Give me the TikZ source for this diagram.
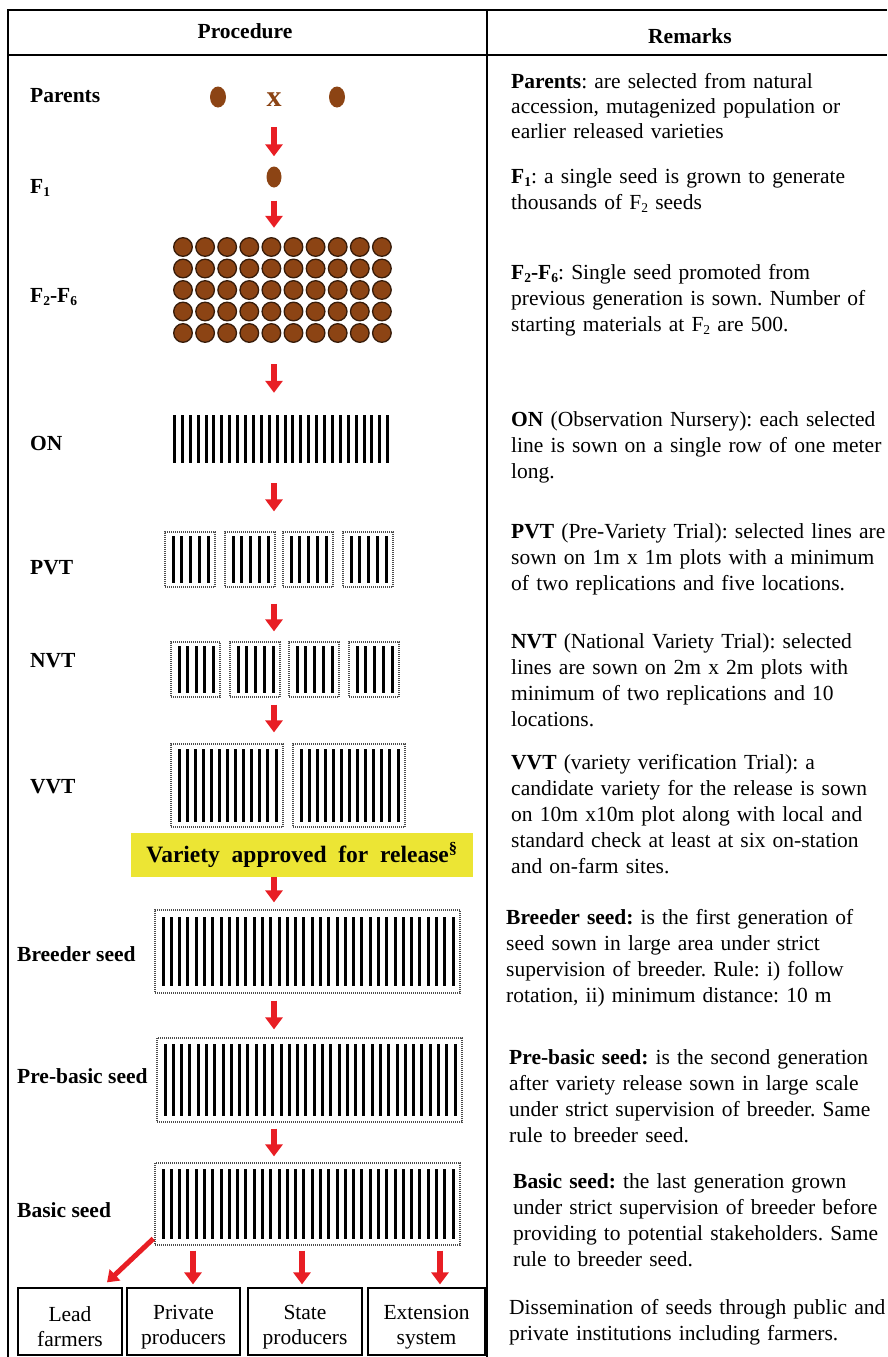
\documentclass[tikz,border=0pt]{standalone}
\usepackage{fontspec}
\setmainfont{Liberation Serif}
\usetikzlibrary{arrows.meta,calc,shapes.geometric}
\definecolor{seedbrown}{RGB}{140,68,20}
\definecolor{seededge}{RGB}{55,28,10}
\definecolor{arrowred}{RGB}{232,30,36}
\definecolor{banneryellow}{RGB}{236,229,52}
\newcommand{\lowsub}[1]{\raisebox{-0.32ex}{\fontsize{13.5}{13.5}\selectfont #1}}
\newcommand{\plotbox}[7]{%
  \node[dotbox, minimum width={#4-#2}, minimum height={#5-#3}] (#1) at ({(#2+#4)/2},{(#3+#5)/2}) {};
  \foreach \k in {1,...,#6}{
    \pgfmathsetmacro{\xx}{round(#2+7.5+(#4-#2-15)*(\k-1)/(#6-1))+0.5}
    \draw[bar] (\xx,#3+#7) -- (\xx,#5-#7);
  }%
}
\begin{document}
\frenchspacing
\begin{tikzpicture}[x=1pt,y=-1pt,
  frame/.style={line width=1.8pt,draw=black},
  hdr/.style={anchor=base,inner sep=0pt,font=\fontsize{21.5}{26}\selectfont\bfseries},
  lab/.style={anchor=base west,inner sep=0pt,font=\fontsize{21.5}{26}\selectfont\bfseries},
  remark/.style={anchor=base west,inner sep=0pt,align=left,text width=400pt,font=\fontsize{21.5}{26}\selectfont},
  seed/.style={ellipse,fill=seedbrown,inner sep=0pt,draw=none},
  gseed/.style={fill=seedbrown,draw=seededge,line width=1.3pt},
  bar/.style={line width=3pt,draw=black},
  dotbox/.style={draw=black!70,line width=1.3pt,dash pattern=on 1pt off 1pt,inner sep=0pt},
  redarrow/.style={draw=arrowred,line width=6.5pt,-{Triangle[length=12pt,width=17pt]}},
  obox/.style={draw=black,line width=1.3pt,inner sep=0pt,align=center,font=\fontsize{21.5}{25}\selectfont},
  helper/.style={inner sep=0pt,minimum size=0pt}]
\useasboundingbox (0,0) rectangle (887,1357);
% table frame
\draw[frame] (8,1357) -- (8,10) -- (887,10);
\draw[frame] (487,10) -- (487,1357);
\draw[frame] (8,55) -- (887,55);
\node[hdr] (hproc) at (245,38) {Procedure};
\node[hdr] (hrem) at (690,43) {Remarks};
% x coordinates for arrows
\coordinate (ax) at (274,0);
\coordinate (bx2) at (193,0);
\coordinate (bx3) at (302,0);
\coordinate (bx4) at (440,0);
% left labels
\node[lab] (lpar) at (30,102) {Parents};
\node[lab] (lf1) at (30,193) {F\lowsub{1}};
\node[lab] (lf2) at (30,302) {F\lowsub{2}-F\lowsub{6}};
\node[lab] (lon) at (30,450) {ON};
\node[lab] (lpvt) at (30,574) {PVT};
\node[lab] (lnvt) at (30,667) {NVT};
\node[lab] (lvvt) at (30,793) {VVT};
\node[lab] (lbr) at (17,961) {Breeder seed};
\node[lab] (lpb) at (17,1083) {Pre-basic seed};
\node[lab] (lbs) at (17,1217) {Basic seed};
% parents and F1
\node[seed,minimum width=16pt,minimum height=21pt] (p1) at (218,97) {};
\node[seed,minimum width=16pt,minimum height=21pt] (p2) at (337,97) {};
\node[anchor=base,inner sep=0pt,text=seedbrown,font=\fontsize{30}{30}\selectfont\bfseries] (cross) at (274,106) {x};
\node[seed,minimum width=15pt,minimum height=21pt] (f1) at (274,177) {};
% F2-F6 grid
\node[helper,minimum width=221pt,minimum height=106pt] (grid) at (282.5,290) {};
\foreach \r in {0,...,4}{
  \foreach \c in {0,...,9}{
    \draw[gseed] ({183+22.1*\c},{247+21.5*\r}) circle (9.3pt);
  }
}
% ON
\node[helper,minimum width=215pt,minimum height=48pt] (on) at (280.5,439) {};
\foreach \k in {0,...,27}{
  \pgfmathsetmacro{\xx}{round(174+7.9*\k)+0.5}
  \draw[bar] (\xx,415) -- (\xx,463);
}
% PVT
\plotbox{pvt1}{165}{532}{215}{587}{5}{4}
\plotbox{pvt2}{225}{532}{275}{587}{5}{4}
\plotbox{pvt3}{283}{532}{333}{587}{5}{4}
\plotbox{pvt4}{343}{532}{393}{587}{5}{4}
% NVT
\plotbox{nvt1}{171}{642}{220}{697}{5}{4}
\plotbox{nvt2}{230}{642}{280}{697}{5}{4}
\plotbox{nvt3}{289}{642}{339}{697}{5}{4}
\plotbox{nvt4}{349}{642}{399}{697}{5}{4}
% VVT
\plotbox{vvt1}{171}{744}{283}{827}{13}{5}
\plotbox{vvt2}{293}{744}{405}{827}{13}{5}
% banner
\node[fill=banneryellow,inner sep=0pt,minimum width=342pt,minimum height=44pt,
  font=\fontsize{23.5}{26}\selectfont\bfseries] (banner) at (302,855)
  {Variety\ \ approved\ \ for\ \ release\textsuperscript{\S}};
% seed multiplication
\plotbox{breeder}{155}{910}{460}{993}{36}{7}
\plotbox{prebasic}{157}{1038}{462}{1122}{36}{6}
\plotbox{basic}{155}{1163}{460}{1245}{36}{6}
% bottom boxes
\node[obox,minimum width=104pt,minimum height=67pt] (b1) at (70,1321.5) {\rule{0pt}{25pt}Lead\\farmers};
\node[obox,minimum width=113pt,minimum height=67pt] (b2) at (183.5,1321.5) {\rule{0pt}{25pt}Private\\producers};
\node[obox,minimum width=114pt,minimum height=67pt] (b3) at (305,1321.5) {\rule{0pt}{25pt}State\\producers};
\node[obox,minimum width=117pt,minimum height=67pt] (b4) at (426.5,1321.5) {\rule{0pt}{25pt}Extension\\system};
% arrows
\draw[redarrow,shorten <=21pt,shorten >=10pt] (cross.south) -- (f1.north);
\draw[redarrow,shorten <=13pt,shorten >=9pt] (f1.south) -- (grid.north -| ax);
\draw[redarrow,shorten <=21pt,shorten >=22pt] (grid.south -| ax) -- (on.north -| ax);
\draw[redarrow,shorten <=20pt,shorten >=20pt] (on.south -| ax) -- (pvt2.north -| ax);
\draw[redarrow,shorten <=16pt,shorten >=10pt] (pvt2.south -| ax) -- (nvt2.north -| ax);
\draw[redarrow,shorten <=7pt,shorten >=11pt] (nvt2.south -| ax) -- (vvt1.north -| ax);
\draw[redarrow,shorten <=0pt,shorten >=7pt] (banner.south -| ax) -- (breeder.north -| ax);
\draw[redarrow,shorten <=7pt,shorten >=8pt] (breeder.south -| ax) -- (prebasic.north -| ax);
\draw[redarrow,shorten <=6pt,shorten >=6pt] (prebasic.south -| ax) -- (basic.north -| ax);
\draw[redarrow,line width=5pt,-{Triangle[length=11pt,width=15pt]}] ([xshift=-1pt,yshift=7pt]basic.south west) -- ([xshift=37pt,yshift=5pt]b1.north);
\draw[redarrow,shorten <=5pt,shorten >=3pt] (basic.south -| bx2) -- (b2.north -| bx2);
\draw[redarrow,shorten <=5pt,shorten >=3pt] (basic.south -| bx3) -- (b3.north -| bx3);
\draw[redarrow,shorten <=5pt,shorten >=3pt] (basic.south -| bx4) -- (b4.north -| bx4);
% remarks
\node[remark,font=\fontsize{21.5}{25}\selectfont] (rpar) at (511,88) {\textbf{Parents}: are selected from natural\\accession, mutagenized population or\\earlier released varieties};
\node[remark] (rf1) at (511,183) {\textbf{F\lowsub{1}}: a single seed is grown to generate\\thousands of F\lowsub{2} seeds};
\node[remark] (rf2) at (511,279) {\textbf{F\lowsub{2}-F\lowsub{6}}: Single seed promoted from\\previous generation is sown. Number of\\starting materials at F\lowsub{2} are 500.};
\node[remark] (ron) at (511,426) {\textbf{ON} (Observation Nursery): each selected\\line is sown on a single row of one meter\\long.};
\node[remark] (rpvt) at (511,538) {\textbf{PVT} (Pre-Variety Trial): selected lines are\\sown on 1m x 1m plots with a minimum\\of two replications and five locations.};
\node[remark] (rnvt) at (511,648) {\textbf{NVT} (National Variety Trial): selected\\lines are sown on 2m x 2m plots with\\minimum of two replications and 10\\locations.};
\node[remark] (rvvt) at (511,769) {\textbf{VVT} (variety verification Trial): a\\candidate variety for the release is sown\\on 10m x10m plot along with local and\\standard check at least at six on-station\\and on-farm sites.};
\node[remark] (rbr) at (506,924) {\textbf{Breeder seed:} is the first generation of\\seed sown in large area under strict\\supervision of breeder. Rule: i) follow\\rotation, ii) minimum distance: 10 m};
\node[remark] (rpb) at (509,1064) {\textbf{Pre-basic seed:} is the second generation\\after variety release sown in large scale\\under strict supervision of breeder. Same\\rule to breeder seed.};
\node[remark] (rbs) at (513,1188) {\textbf{Basic seed:} the last generation grown\\under strict supervision of breeder before\\providing to potential stakeholders. Same\\rule to breeder seed.};
\node[remark] (rdis) at (509,1314) {Dissemination of seeds through public and\\private institutions including farmers.};
\end{tikzpicture}
\end{document}
